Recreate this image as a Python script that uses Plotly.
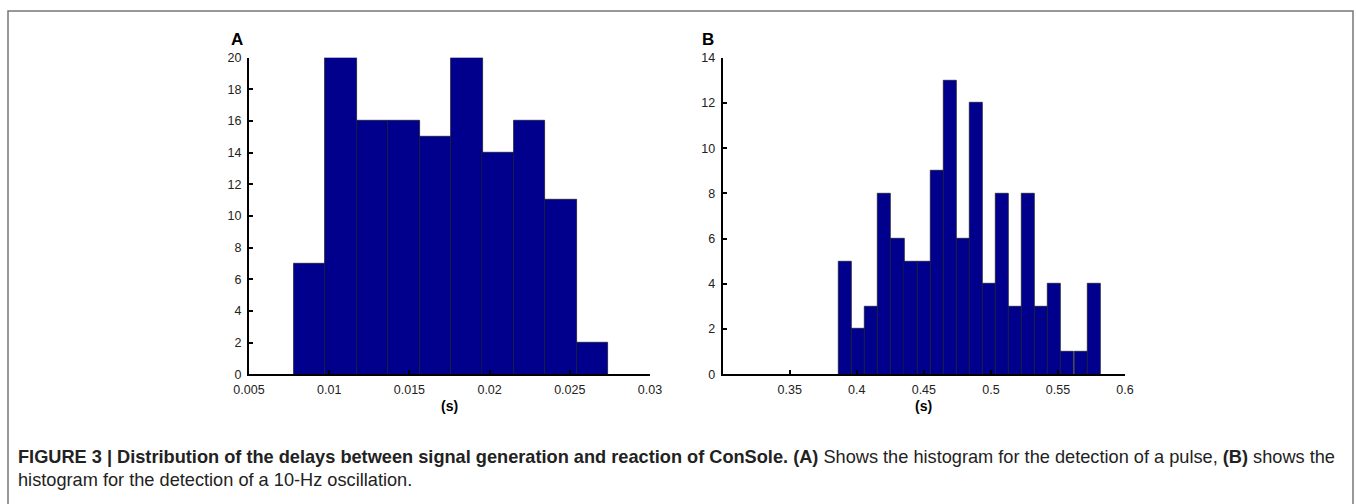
import plotly.graph_objects as go

W, H = 1356, 504

# ---- data ----
a_centers = [0.00877, 0.01074, 0.01270, 0.01466, 0.01662, 0.01858, 0.02053, 0.02249, 0.02445, 0.02641]
a_counts = [7, 20, 16, 16, 15, 20, 14, 16, 11, 2]
a_width = 0.001957

b_centers = [0.3915, 0.4012, 0.4110, 0.4207, 0.4305, 0.4402, 0.4500, 0.4597, 0.4695, 0.4792,
             0.4890, 0.4987, 0.5085, 0.5182, 0.5280, 0.5377, 0.5475, 0.5572, 0.5670, 0.5767]
b_counts = [5, 2, 3, 8, 6, 5, 5, 9, 13, 6, 12, 4, 8, 3, 8, 3, 4, 1, 1, 4]
b_width = 0.00975

a_xticks = [0.005, 0.01, 0.015, 0.02, 0.025, 0.03]
a_xticktext = ["0.005", "0.01", "0.015", "0.02", "0.025", "0.03"]
a_yticks = [0, 2, 4, 6, 8, 10, 12, 14, 16, 18, 20]
b_xticks = [0.35, 0.4, 0.45, 0.5, 0.55, 0.6]
b_xticktext = ["0.35", "0.4", "0.45", "0.5", "0.55", "0.6"]
b_yticks = [0, 2, 4, 6, 8, 10, 12, 14]

caption_line1 = ("<b>FIGURE 3 | Distribution of the delays between signal generation and reaction of ConSole. (A)</b>"
                 " Shows the histogram for the detection of a pulse, <b>(B)</b> shows the")
caption_line2 = "histogram for the detection of a 10-Hz oscillation."


def px(x):
    return x / W


def py(y):
    return 1 - y / H


BAR = "#00008C"
EDGE = "#1c1c3c"
TICKFONT = dict(family="Liberation Sans, Arial, sans-serif", size=12.5, color="#222")
CAPFONT = "Liberation Sans, Arial, sans-serif"

fig = go.Figure()
fig.add_trace(go.Bar(x=a_centers, y=a_counts, width=a_width, marker=dict(color=BAR, line=dict(color=EDGE, width=0.8)),
                     xaxis="x", yaxis="y", showlegend=False))
fig.add_trace(go.Bar(x=b_centers, y=b_counts, width=b_width, marker=dict(color=BAR, line=dict(color=EDGE, width=0.8)),
                     xaxis="x2", yaxis="y2", showlegend=False))

ydom = [py(374.3), py(57.7)]
axis_common = dict(showgrid=False, zeroline=False, showline=True, linecolor="black", linewidth=2,
                   ticks="inside", ticklen=4, tickwidth=1.5, tickcolor="black", tickfont=TICKFONT,
                   automargin=False)

fig.update_layout(
    template="none",
    width=W, height=H,
    autosize=False,
    margin=dict(l=0, r=0, t=0, b=0, pad=0, autoexpand=False),
    paper_bgcolor="white", plot_bgcolor="white",
    bargap=0,
    xaxis=dict(domain=[px(249), px(650)], range=[0.005, 0.03], tickvals=a_xticks, ticktext=a_xticktext,
               anchor="y", ticklabelstandoff=3, **axis_common),
    yaxis=dict(domain=ydom, range=[0, 20], tickvals=a_yticks, anchor="x", ticklabelstandoff=3, **axis_common),
    xaxis2=dict(domain=[px(722.7), px(1125)], range=[0.3, 0.6], tickvals=b_xticks, ticktext=b_xticktext,
                anchor="y2", ticklabelstandoff=3, **axis_common),
    yaxis2=dict(domain=ydom, range=[0, 14], tickvals=b_yticks, anchor="x2", ticklabelstandoff=3, **axis_common),
)

ann = []
ann.append(dict(text="<b>A</b>", x=px(237), y=py(39.5), xref="paper", yref="paper", showarrow=False,
                font=dict(family=CAPFONT, size=17, color="black"), xanchor="center", yanchor="middle"))
ann.append(dict(text="<b>B</b>", x=px(708), y=py(39.5), xref="paper", yref="paper", showarrow=False,
                font=dict(family=CAPFONT, size=17, color="black"), xanchor="center", yanchor="middle"))
for cx in (449.5, 924):
    ann.append(dict(text="<b>(s)</b>", x=px(cx), y=py(406), xref="paper", yref="paper", showarrow=False,
                    font=dict(family=CAPFONT, size=14, color="black"), xanchor="center", yanchor="middle"))
ann.append(dict(text=caption_line1, x=px(16), y=py(457), xref="paper", yref="paper", showarrow=False,
                font=dict(family=CAPFONT, size=18.2, color="#222"), xanchor="left", yanchor="middle"))
ann.append(dict(text=caption_line2, x=px(16), y=py(480), xref="paper", yref="paper", showarrow=False,
                font=dict(family=CAPFONT, size=18.2, color="#222"), xanchor="left", yanchor="middle"))
fig.update_layout(annotations=ann)

fig.add_shape(type="rect", xref="paper", yref="paper", x0=px(8), x1=px(1353), y0=py(520), y1=py(11),
              line=dict(color="#777", width=1.5), fillcolor="rgba(0,0,0,0)", layer="below")

fig.write_html("out.html", config={"displayModeBar": False},
               post_script="document.body.style.margin='0';document.body.style.overflow='hidden';")
